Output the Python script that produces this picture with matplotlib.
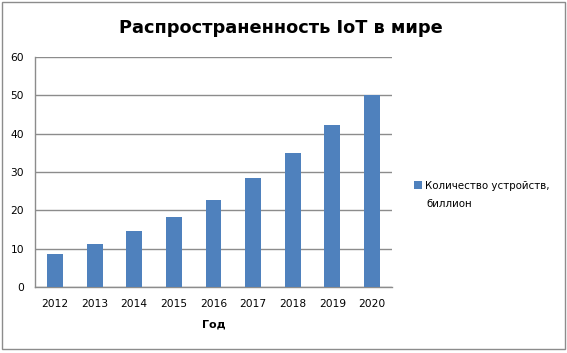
import matplotlib.pyplot as plt
from matplotlib.patches import Rectangle

years = ['2012', '2013', '2014', '2015', '2016', '2017', '2018', '2019', '2020']
devices = [8.7, 11.1, 14.5, 18.2, 22.8, 28.4, 34.8, 42.1, 50.0]
y_ticks = [0, 10, 20, 30, 40, 50, 60]

bar_color = '#4f81bd'
grid_color = '#8c8c8c'

fig = plt.figure(figsize=(5.67, 3.53), dpi=100)
ax = fig.add_axes([0.062, 0.187, 0.629, 0.652])

x = range(len(years))
ax.bar(x, devices, width=0.4, color=bar_color, zorder=3,
       label='Количество устройств,')

ax.set_xlim(-0.5, len(years) - 0.5)
ax.set_ylim(0, 60)
ax.set_yticks(y_ticks)
ax.set_xticks(list(x))
ax.set_xticklabels(years)
ax.yaxis.grid(True, color=grid_color, linewidth=1, zorder=0)
ax.tick_params(axis='both', length=0, labelsize=7.7, colors='black', pad=9)
ax.tick_params(axis='y', pad=8)

for side in ['top', 'right']:
    ax.spines[side].set_visible(False)
for side in ['left', 'bottom']:
    ax.spines[side].set_color(grid_color)
    ax.spines[side].set_linewidth(1)

ax.set_xlabel('Год', fontsize=8, fontweight='bold', labelpad=7)

fig.text(0.496, 0.92, 'Распространенность IoT в мире', ha='center', va='center',
         fontsize=12.8, fontweight='bold')

leg = ax.legend(loc='upper left', bbox_to_anchor=(1.05, 0.48), frameon=False,
                fontsize=7.4, handlelength=0.8, handleheight=0.8, handletextpad=0.3,
                borderaxespad=0)
fig.text(0.752, 0.422, 'биллион', fontsize=7.4, va='center')

# outer chart border
fig.patches.append(Rectangle((0.004, 0.012), 0.992, 0.982, transform=fig.transFigure,
                             fill=False, edgecolor=grid_color, linewidth=1))

fig.savefig('out.png', dpi=100)
